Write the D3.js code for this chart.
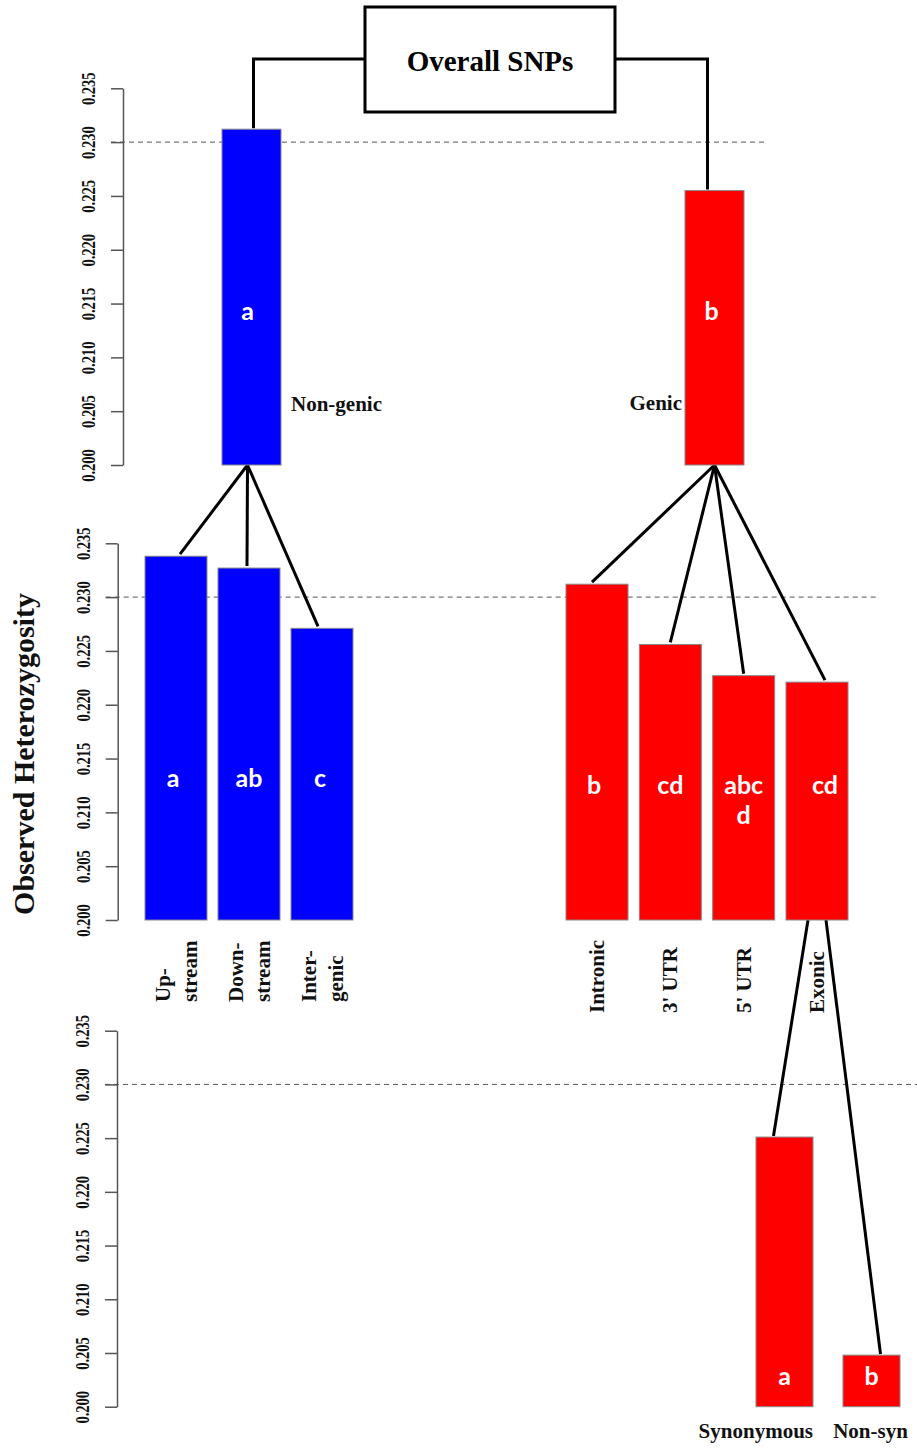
<!DOCTYPE html>
<html><head><meta charset="utf-8">
<script src="https://cdn.jsdelivr.net/npm/d3@7"></script>
<style>body{margin:0;background:#fff} svg{display:block}</style>
</head><body><svg id="c" width="917" height="1448"></svg>
<script>
// ---- data ----
const tickValues = [0.200, 0.205, 0.210, 0.215, 0.220, 0.225, 0.230, 0.235];
const refValue = 0.230;
const rootLabel = "Overall SNPs";
const yTitle = "Observed Heterozygosity";

const topCats = ["Non-genic", "Genic"];
const topVals = [0.2312, 0.2255];
const topLetters = ["a", "b"];

const midCatsBlue = ["Up-\nstream", "Down-\nstream", "Inter-\ngenic"];
const midValsBlue = [0.2338, 0.2327, 0.2271];
const midLettersBlue = ["a", "ab", "c"];

const midCatsRed = ["Intronic", "3' UTR", "5' UTR", "Exonic"];
const midValsRed = [0.2312, 0.2256, 0.2227, 0.2221];
const midLettersRed = ["b", "cd", "abc\nd", "cd"];

const lowCats = ["Synonymous", "Non-syn"];
const lowVals = [0.2251, 0.2048];
const lowLetters = ["a", "b"];

// ---- drawing ----
const BLUE = "#0000ff", RED = "#ff0000";
const SERIF = "'Liberation Serif','Times New Roman',serif";
const SANS = "Lato,'Open Sans',sans-serif";
const svg = d3.select("#c");

function yScale(y0, y1) { return d3.scaleLinear().domain([0.200, 0.235]).range([y0, y1]); }
function band(domain, x0, x1, bw) {
  const n = domain.length;
  const step = (x1 - x0 - bw) / (n - 1);
  return d3.scaleBand().domain(domain).range([x0, x1]).paddingInner(1 - bw / step).paddingOuter(0);
}

function drawAxis(y, ax, dashEnd) {
  const g = svg.append("g").attr("transform", `translate(${ax},0)`)
    .call(d3.axisLeft(y).tickValues(tickValues).tickSize(12).tickSizeOuter(0).tickFormat(d3.format(".3f")));
  g.select(".domain").attr("stroke", "#555").attr("stroke-width", 1.5);
  g.selectAll(".tick line").attr("stroke", "#555").attr("stroke-width", 1.5);
  g.selectAll(".tick text")
    .attr("x", null).attr("dy", null)
    .attr("text-anchor", "middle")
    .attr("transform", "translate(-28,0) rotate(-90) scale(1,1.25)")
    .attr("fill", "#111")
    .style("font-family", SERIF).style("font-weight", "bold").style("font-size", "14.5px");
  svg.append("line")
    .attr("x1", ax - 12).attr("x2", dashEnd)
    .attr("y1", y(refValue)).attr("y2", y(refValue))
    .attr("stroke", "#555").attr("stroke-width", 1).attr("stroke-dasharray", "5,4");
}

function drawBars(cats, vals, x, y, color) {
  svg.append("g").selectAll("rect").data(cats).join("rect")
    .attr("x", d => x(d)).attr("width", x.bandwidth())
    .attr("y", (d, i) => y(vals[i]))
    .attr("height", (d, i) => y(0.200) - y(vals[i]))
    .attr("fill", (d, i) => Array.isArray(color) ? color[i] : color)
    .attr("stroke", "#888").attr("stroke-width", 1);
}

function drawLetters(cats, letters, x, y, val, nudge) {
  cats.forEach((c, i) => {
    const lx = x(c) + x.bandwidth() / 2 + (nudge ? nudge(i) : 0);
    const t = svg.append("text")
      .attr("x", lx).attr("y", y(val))
      .attr("text-anchor", "middle").attr("fill", "#fff")
      .style("font-family", SANS).style("font-weight", "bold").style("font-size", "25px");
    letters[i].split("\n").forEach((ln, k) => {
      t.append("tspan").attr("x", lx).attr("dy", k === 0 ? 0 : 30).text(ln);
    });
  });
}

function link(x1, y1, x2, y2) {
  svg.append("line").attr("x1", x1).attr("y1", y1).attr("x2", x2).attr("y2", y2)
    .attr("stroke", "#000").attr("stroke-width", 3).attr("stroke-linecap", "butt");
}

// Panels
const y1 = yScale(465, 88.3), y2 = yScale(920, 543.3), y3 = yScale(1406.7, 1030.7);
drawAxis(y1, 123, 768);
drawAxis(y2, 117.7, 877);
drawAxis(y3, 117, 917);

const x1 = band(topCats, 222, 744, 59);
const xb = band(midCatsBlue, 145, 353, 62);
const xr = band(midCatsRed, 566, 848, 62);
const x3 = band(lowCats, 756, 900, 57);
const cx = (x, c) => x(c) + x.bandwidth() / 2;

// connectors (drawn before bars)
const rootBox = { x: 365, y: 7, w: 250, h: 105 };
const rootMid = rootBox.y + 52;
svg.append("path")
  .attr("d", `M${rootBox.x},${rootMid}H${cx(x1, topCats[0]) + 2}V${y1(topVals[0]) - 1}`)
  .attr("fill", "none").attr("stroke", "#000").attr("stroke-width", 3);
svg.append("path")
  .attr("d", `M${rootBox.x + rootBox.w},${rootMid}H${cx(x1, topCats[1]) - 7}V${y1(topVals[1]) - 1}`)
  .attr("fill", "none").attr("stroke", "#000").attr("stroke-width", 3);

midCatsBlue.forEach((c, i) => link(cx(x1, topCats[0]) - 4, y1(0.200), cx(xb, c) + (i === 0 ? 4 : i === 2 ? -4 : -2), y2(midValsBlue[i]) - 2));
midCatsRed.forEach((c, i) => link(cx(x1, topCats[1]), y1(0.200), cx(xr, c) + (i === 0 ? -5 : i === 3 ? 8 : 0), y2(midValsRed[i]) - 2));
const exo = cx(xr, "Exonic");
link(exo - 9, y2(0.200), cx(x3, lowCats[0]) - 11, y3(lowVals[0]) - 1);
link(exo + 9, y2(0.200), cx(x3, lowCats[1]) + 9, y3(lowVals[1]) - 1);

drawBars(topCats, topVals, x1, y1, [BLUE, RED]);
drawBars(midCatsBlue, midValsBlue, xb, y2, BLUE);
drawBars(midCatsRed, midValsRed, xr, y2, RED);
drawBars(lowCats, lowVals, x3, y3, RED);

drawLetters(topCats, topLetters, x1, y1, 0.2135, i => (i === 0 ? -4 : -3));
drawLetters(midCatsBlue, midLettersBlue, xb, y2, 0.2124, i => (i === 0 ? -3 : i === 2 ? -2 : 0));
drawLetters(midCatsRed, midLettersRed, xr, y2, 0.2117, i => (i === 3 ? 8 : i === 0 ? -3 : 0));
drawLetters(lowCats, lowLetters, x3, y3, 0.2020);

// root box
svg.append("rect").attr("x", rootBox.x).attr("y", rootBox.y).attr("width", rootBox.w).attr("height", rootBox.h)
  .attr("fill", "#fff").attr("stroke", "#000").attr("stroke-width", 3);
svg.append("text").attr("x", rootBox.x + rootBox.w / 2).attr("y", 71).attr("text-anchor", "middle")
  .style("font-family", SERIF).style("font-weight", "bold").style("font-size", "29px").text(rootLabel);

// top labels
const lblStyle = s => s.style("font-family", SERIF).style("font-weight", "bold").style("font-size", "21px").attr("fill", "#111");
svg.append("text").attr("x", x1(topCats[0]) + x1.bandwidth() + 10).attr("y", 411).attr("text-anchor", "start").call(lblStyle).text(topCats[0]);
svg.append("text").attr("x", x1(topCats[1]) - 3).attr("y", 410).attr("text-anchor", "end").call(lblStyle).text(topCats[1]);

// mid labels (rotated)
midCatsBlue.forEach(c => {
  const t = svg.append("text").attr("transform", `translate(${cx(xb, c)},1002) rotate(-90)`).attr("text-anchor", "start").call(lblStyle);
  c.split("\n").forEach((ln, k) => t.append("tspan").attr("x", 0).attr("y", k === 0 ? -6 : 21).text(ln));
});
midCatsRed.forEach(c => {
  svg.append("text").attr("transform", `translate(${cx(xr, c) + 7},1013) rotate(-90)`).attr("text-anchor", "start").call(lblStyle).text(c);
});

// low labels
svg.append("text").attr("x", x3(lowCats[0]) + x3.bandwidth()).attr("y", 1438).attr("text-anchor", "end").call(lblStyle).text(lowCats[0]);
svg.append("text").attr("x", cx(x3, lowCats[1]) - 1).attr("y", 1438).attr("text-anchor", "middle").call(lblStyle).text(lowCats[1]);

// y title
svg.append("text").attr("transform", "translate(34,754) rotate(-90)").attr("text-anchor", "middle")
  .style("font-family", SERIF).style("font-weight", "bold").style("font-size", "30px").attr("fill", "#111").text(yTitle);
</script>
</body></html>
